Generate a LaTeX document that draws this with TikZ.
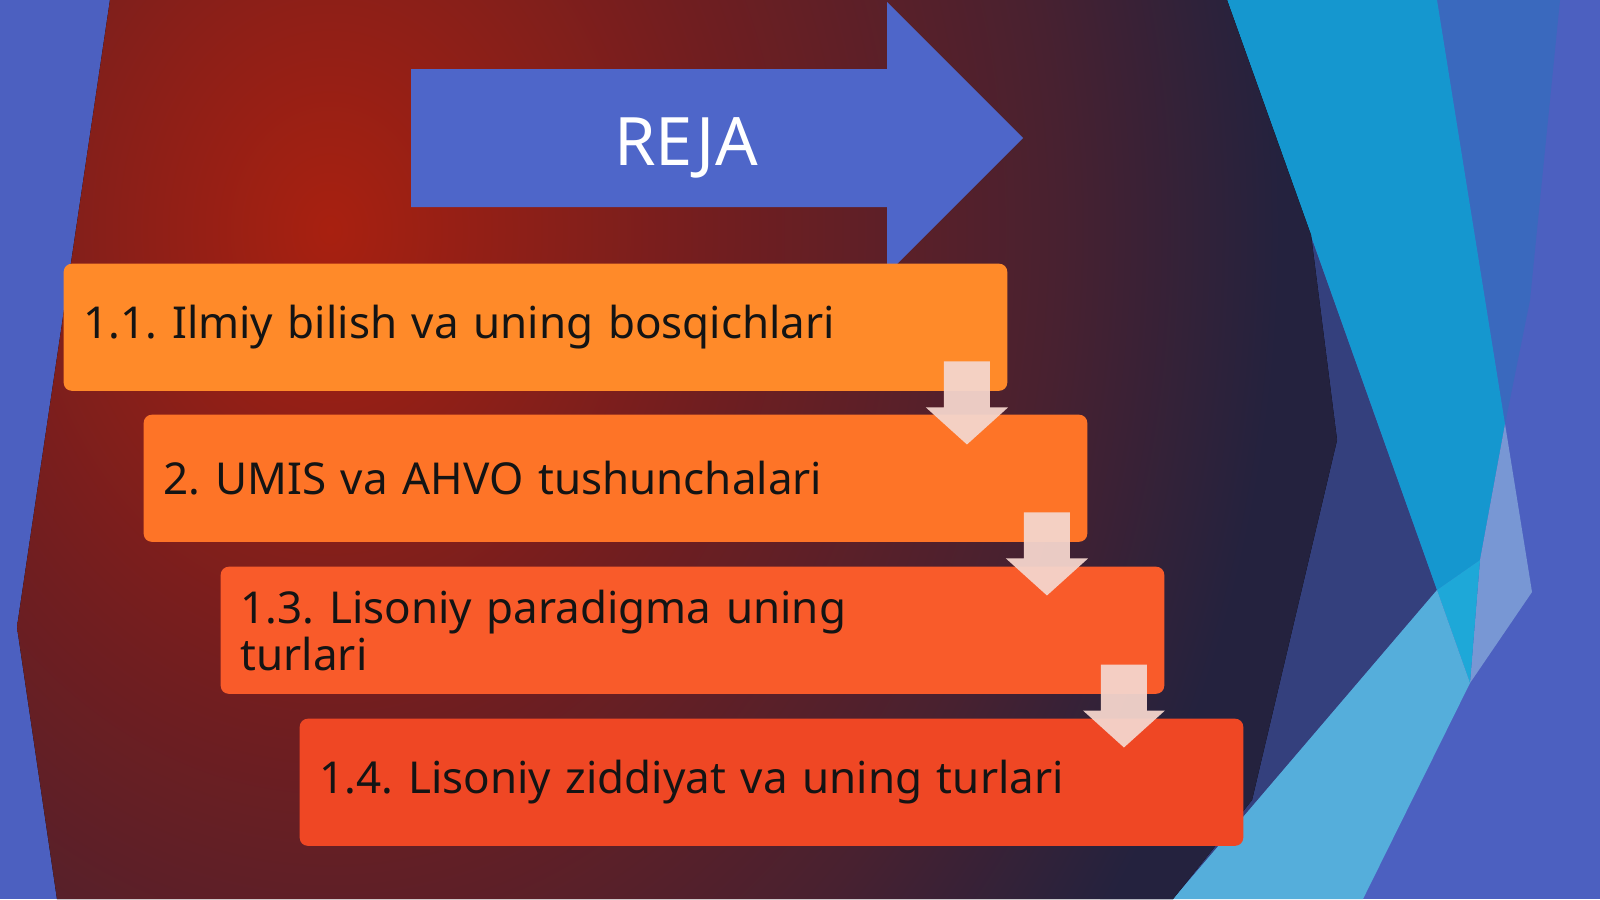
\documentclass[tikz,border=0pt]{standalone}
\usepackage{fontspec}
\setmainfont{Noto Sans}
\usetikzlibrary{calc}

\definecolor{baseblue}{HTML}{4C60C0}
\definecolor{midblue}{HTML}{3A69BE}
\definecolor{cyanblue}{HTML}{1597CF}
\definecolor{lavender}{HTML}{7897D4}
\definecolor{brightcyan}{HTML}{1EA8D8}
\definecolor{skyband}{HTML}{55AEDB}
\definecolor{navy}{HTML}{34407D}
\definecolor{glowA}{HTML}{A82010}
\definecolor{glowB}{HTML}{701E20}
\definecolor{glowC}{HTML}{482130}
\definecolor{glowD}{HTML}{24223E}
\definecolor{rejablue}{HTML}{4E66C9}
\definecolor{itemA}{HTML}{FF8A29}
\definecolor{itemB}{HTML}{FE7427}
\definecolor{itemC}{HTML}{F95B2A}
\definecolor{itemD}{HTML}{EF4724}
\definecolor{flowpink}{HTML}{F4D5CC}
\definecolor{ink}{HTML}{141414}

\pgfdeclareradialshading{glow}{\pgfpoint{0bp}{0bp}}{color(0bp)=(glowA); color(8bp)=(glowB); color(14.6bp)=(glowC); color(19bp)=(glowD); color(50bp)=(glowD)}

\begin{document}
\frenchspacing
\begin{tikzpicture}[
        x=0.01cm, y=-0.01cm, % one unit = one pixel, y runs down
        item/.style={anchor=north west, rounded corners=0.08cm, minimum width=9.43cm, minimum height=1.27cm, text width=9.03cm, inner xsep=0.2cm, inner ysep=0pt, align=left, text=ink, font=\fontsize{12.5}{13.4}\selectfont}, % list boxes
        flow/.style={fill=flowpink, fill opacity=0.95}, % small down arrows
        title/.style={text=white, anchor=base, font=\fontsize{19}{22}\selectfont} % REJA
        ]

        \useasboundingbox (0,0) rectangle (1600,899);
        \clip (0,0) rectangle (1600,899);

        % Background facets
        \fill[baseblue] (0,0) rectangle (1600,899);
        \fill[navy] (1100,0) -- (1227,0) -- (1437,590) -- (1173,899) -- (1100,899) -- cycle;
        \fill[midblue] (1437,0) -- (1560,0) -- (1530,300) -- (1505,424) -- cycle;
        \fill[cyanblue] (1227,0) -- (1437,0) -- (1505,424) -- (1480,560) -- (1437,590) -- cycle;
        \fill[lavender] (1505,424) -- (1532,592) -- (1470,683) -- (1480,560) -- cycle;
        \fill[brightcyan] (1437,590) -- (1480,560) -- (1470,683) -- cycle;
        \fill[skyband] (1437,590) -- (1470,683) -- (1363,899) -- (1173,899) -- cycle;
        \begin{scope}
            \clip (110,0) -- (1227,0) -- (1311,235) -- (1337,440) -- (1252,800) -- (1173,899) -- (57,899) -- (17,627) -- cycle;
            \fill[shading=glow] (330,230) ellipse [x radius=1250, y radius=1550];
        \end{scope}

        % REJA arrow
        \fill[rejablue] (411,69) -- (887,69) -- (887,2) -- (1023,138) -- (887,274) -- (887,207) -- (411,207) -- cycle;
        \node (reja) [title] at (686,165) {REJA};

        % List boxes
        \node (b1) [item, fill=itemA] at (63,263) {1.1. Ilmiy bilish va uning bosqichlari};
        \node (b2) [item, fill=itemB] at (143,414) {2. UMIS va AHVO tushunchalari};
        \node (b3) [item, fill=itemC] at (220,566) {1.3. Lisoniy paradigma uning\\turlari};
        \node (b4) [item, fill=itemD] at (299,718) {1.4. Lisoniy ziddiyat va uning turlari};

        % Down arrows between boxes
        \foreach \a in {b1,b2,b3}
            \fill[flow] ($(\a.south east)+(-41,53)$) -- ++(41,-37) -- ++(-18,0) -- ++(0,-46) -- ++(-46,0) -- ++(0,46) -- ++(-18,0) -- cycle;

\end{tikzpicture}
\end{document}
